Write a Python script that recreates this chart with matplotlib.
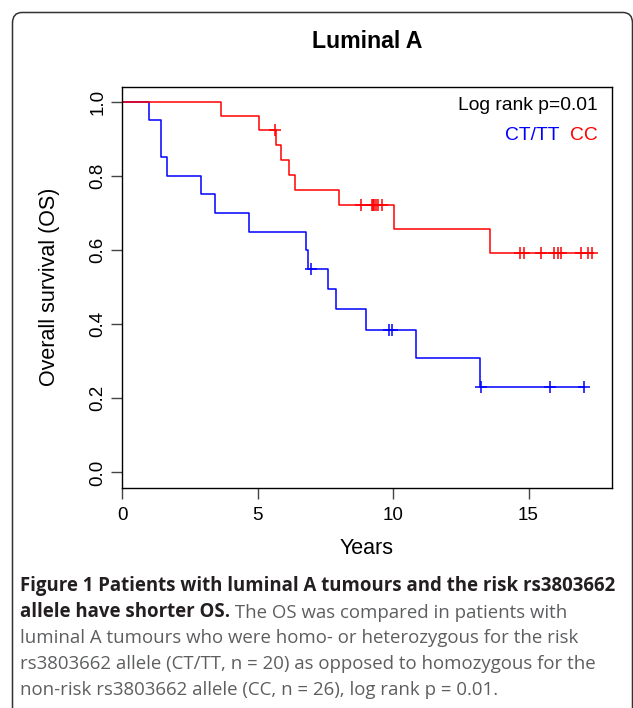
import numpy as np
import matplotlib
matplotlib.use("Agg")
import matplotlib.pyplot as plt
from matplotlib.patches import FancyBboxPatch

# CT/TT group (blue): step times and survival level after each step
blue_times = [0, 1.01, 1.43, 1.45, 1.66, 2.92, 3.43, 4.70, 6.78, 6.88, 7.61, 7.88, 9.00, 10.84, 13.20]
blue_surv = [1.0, 0.95, 0.90, 0.85, 0.80, 0.75, 0.70, 0.65, 0.60, 0.55, 0.495, 0.44, 0.385, 0.308, 0.231]
blue_censor = [6.96, 9.86, 9.96, 13.26, 15.78, 17.06]

# CC group (red)
red_times = [0, 3.65, 5.06, 5.67, 5.85, 6.15, 6.37, 8.02, 10.02, 13.58]
red_surv = [1.0, 0.962, 0.923, 0.883, 0.843, 0.803, 0.761, 0.721, 0.657, 0.591]
red_censor = [5.65, 8.81, 9.22, 9.27, 9.31, 9.36, 9.46, 9.61,
              14.69, 14.83, 15.46, 15.94, 16.08, 16.19, 16.93, 17.18, 17.33]

xticks = [0, 5, 10, 15]
yticks = [0.0, 0.2, 0.4, 0.6, 0.8, 1.0]

W, H = 633, 708
fig = plt.figure(figsize=(W / 100, H / 100), dpi=100)
fig.patch.set_facecolor("white")

# rounded frame around the figure panel
frame = FancyBboxPatch((12.5 / W, -0.05), (632.5 - 12.5) / W, (H - 12.5) / H + 0.05,
                       boxstyle="round,pad=0,rounding_size=0.015",
                       transform=fig.transFigure, fill=False, ec="#333333", lw=1.1)
fig.patches.append(frame)

ax = fig.add_axes([122 / W, 1 - 488 / H, (612 - 122) / W, (488 - 87) / H])


def curve(times, surv, censor, color):
    end = max(censor[-1], times[-1])
    xs = list(times) + [end]
    ys = list(surv) + [surv[-1]]
    ax.step(xs, ys, where="post", color=color, lw=1.1)
    idx = np.searchsorted(times, censor, side="right") - 1
    cy = np.array(surv)[idx]
    ax.plot(censor, cy, ls="none", marker="+", ms=9, mew=1.1, color=color)


curve(blue_times, blue_surv, blue_censor, "#0000ff")
curve(red_times, red_surv, red_censor, "#ff0000")

ax.set_xlim(0, 18.08)
ax.set_ylim(-0.042, 1.04)
ax.set_xticks(xticks)
ax.set_xticklabels([str(t) for t in xticks])
ax.set_yticks(yticks)
ax.set_yticklabels(["%.1f" % t for t in yticks], rotation=90, va="center")
ax.tick_params(length=8, width=1.0, color="#444444", labelsize=13.5, pad=3)
ax.tick_params(axis="x", pad=6)
for s in ax.spines.values():
    s.set_linewidth(1.0)

sans = ["Liberation Sans", "DejaVu Sans"]
for lab in ax.get_xticklabels() + ax.get_yticklabels():
    lab.set_family(sans)

ax.text(0.97, 0.955, "Log rank p=0.01", transform=ax.transAxes, ha="right", va="center",
        fontsize=13.9, family=sans)
cc = ax.text(0.97, 0.88, "CC", transform=ax.transAxes, ha="right", va="center",
             fontsize=13.9, family=sans, color="#ff0000")
ax.annotate("CT/TT  ", xy=(0, 0), xycoords=cc, ha="right", va="bottom",
            fontsize=13.9, family=sans, color="#0000ff")

fig.text(367 / W, 1 - 42 / H, "Luminal A", ha="center", va="center",
         fontsize=16.7, fontweight="bold", family=sans)
fig.text(50 / W, 1 - 287 / H, "Overall survival (OS)", rotation=90, ha="center",
         va="center", fontsize=15.5, family=sans)
fig.text(367 / W, 1 - 549 / H, "Years", ha="center", va="center", fontsize=15.5, family=sans)

# caption
cap = ["Open Sans", "DejaVu Sans"]
cs = 13.4
dark = "#231f20"
grey = "#5d5e60"
x0 = 20 / W
rows = [586, 612, 638, 664, 690]
fig.text(x0, 1 - rows[0] / H, "Figure 1 Patients with luminal A tumours and the risk rs3803662",
         ha="left", va="center", fontsize=cs, fontweight="bold", family=cap, color=dark)
b2 = fig.text(x0, 1 - rows[1] / H, "allele have shorter OS.", ha="left", va="center",
              fontsize=cs, fontweight="bold", family=cap, color=dark)
ax.annotate(" The OS was compared in patients with", xy=(1, 0), xycoords=b2,
            ha="left", va="bottom", fontsize=cs, family=cap, color=grey)
fig.text(x0, 1 - rows[2] / H, "luminal A tumours who were homo- or heterozygous for the risk",
         ha="left", va="center", fontsize=cs, family=cap, color=grey)
fig.text(x0, 1 - rows[3] / H, "rs3803662 allele (CT/TT, n = 20) as opposed to homozygous for the",
         ha="left", va="center", fontsize=cs, family=cap, color=grey)
fig.text(x0, 1 - rows[4] / H, "non-risk rs3803662 allele (CC, n = 26), log rank p = 0.01.",
         ha="left", va="center", fontsize=cs, family=cap, color=grey)

fig.savefig("out.png", dpi=100)
